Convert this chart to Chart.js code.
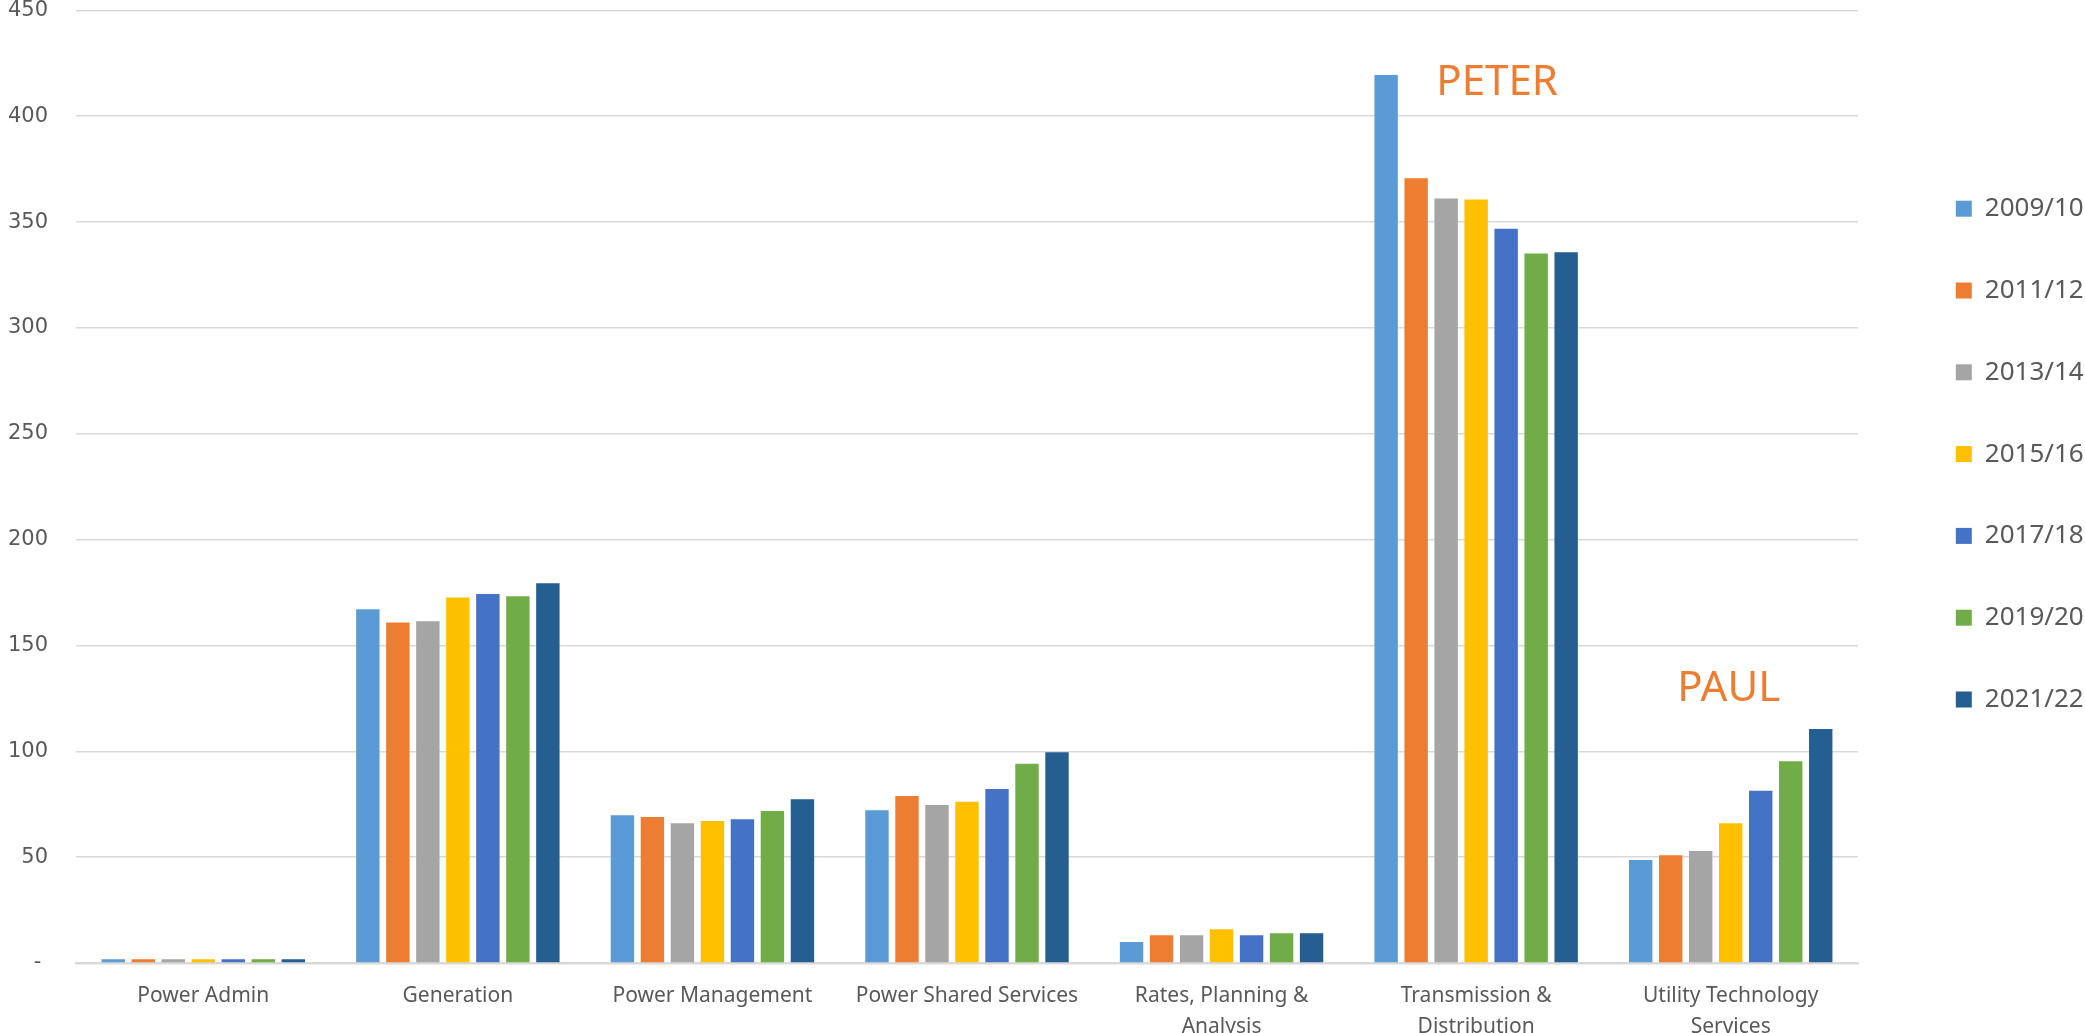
<!DOCTYPE html>
<html>
<head>
<meta charset="utf-8">
<script src="https://cdn.jsdelivr.net/npm/chart.js@4.4.1/dist/chart.umd.min.js"></script>
<style>
  html, body { margin: 0; padding: 0; background: #fff; }
  #wrap { width: 2085px; height: 1033px; position: relative; }
</style>
</head>
<body>
<div id="wrap"><canvas id="chart"></canvas></div>
<script>
const categories = [
  'Power Admin',
  'Generation',
  'Power Management',
  'Power Shared Services',
  ['Rates, Planning &', 'Analysis'],
  ['Transmission &', 'Distribution'],
  ['Utility Technology', 'Services']
];
const years = ['2009/10', '2011/12', '2013/14', '2015/16', '2017/18', '2019/20', '2021/22'];

const y2009 = [1.8, 167.1, 69.8, 72.1, 9.9, 419.5, 48.7];
const y2011 = [1.8, 160.8, 69.0, 78.9, 13.1, 370.7, 50.9];
const y2013 = [1.8, 161.4, 66.0, 74.6, 13.1, 361.2, 52.9];
const y2015 = [1.8, 172.7, 67.1, 76.2, 15.9, 360.7, 66.0];
const y2017 = [1.8, 174.3, 67.9, 82.2, 13.1, 346.9, 81.4];
const y2019 = [1.8, 173.2, 71.8, 94.1, 14.0, 335.2, 95.3];
const y2021 = [1.8, 179.4, 77.3, 99.5, 14.0, 335.7, 110.5];

const yTicks = [0, 50, 100, 150, 200, 250, 300, 350, 400, 450];

// callouts written on the chart
const noteText = ['PETER', 'PAUL'];
const noteCat = [5, 6];
const noteVal = [415.7, 129.4];

const colors = ['#5B9BD5', '#ED7D31', '#A5A5A5', '#FFC000', '#4472C4', '#70AD47', '#255E91'];
const series = [y2009, y2011, y2013, y2015, y2017, y2019, y2021];

const textGrey = '#595959';
const gridGrey = '#d9d9d9';

const notes = {
  id: 'notes',
  afterDatasetsDraw(chart) {
    const ctx = chart.ctx;
    const xs = chart.scales.x, ys = chart.scales.y;
    const shift = [21, -2];
    ctx.save();
    ctx.font = '42px "Noto Sans"';
    ctx.fillStyle = '#ED7D31';
    ctx.textAlign = 'center';
    ctx.textBaseline = 'middle';
    noteText.forEach((t, i) => {
      ctx.fillText(t, xs.getPixelForValue(noteCat[i]) + shift[i], ys.getPixelForValue(noteVal[i]));
    });
    ctx.restore();
  }
};

new Chart(document.getElementById('chart'), {
  type: 'bar',
  data: {
    labels: categories,
    datasets: series.map((s, i) => ({
      label: years[i],
      data: s,
      backgroundColor: colors[i],
      categoryPercentage: 0.825,
      barPercentage: 0.78
    }))
  },
  options: {
    responsive: true,
    maintainAspectRatio: false,
    animation: false,
    layout: { padding: 0 },
    plugins: {
      tooltip: { enabled: false },
      legend: {
        position: 'right',
        align: 'start',
        maxWidth: 185,
        title: { display: true, text: ' ', font: { size: 12 }, padding: { top: 0, bottom: 125.5 } },
        labels: {
          boxWidth: 16,
          boxHeight: 16,
          padding: 55.8,
          color: textGrey,
          font: { family: '"Noto Sans"', size: 26 }
        }
      }
    },
    scales: {
      x: {
        grid: { display: false },
        border: { display: true, color: gridGrey, width: 2.5 },
        ticks: {
          color: textGrey,
          padding: 10,
          maxRotation: 0,
          autoSkip: false,
          font: { family: '"Noto Sans"', size: 21, lineHeight: 1.45 }
        },
        afterFit: s => { s.height = 70; }
      },
      y: {
        min: 0,
        max: 450,
        afterBuildTicks: s => { s.ticks = yTicks.map(v => ({ value: v })); },
        grid: { color: gridGrey, lineWidth: 1.5, drawTicks: true, tickLength: 28, tickColor: 'rgba(0,0,0,0)' },
        border: { display: false },
        ticks: {
          color: textGrey,
          padding: 0,
          font: { family: '"DejaVu Sans"', size: 21, lineHeight: 0.99 },
          callback: v => v === 0 ? '- ' : v
        },
        afterFit: s => { s.width = 76; }
      },
      gap: {
        position: 'right',
        display: true,
        grid: { display: false },
        border: { display: false },
        ticks: { display: false },
        afterFit: s => { s.width = 42; }
      }
    }
  },
  plugins: [notes]
});
</script>
</body>
</html>
